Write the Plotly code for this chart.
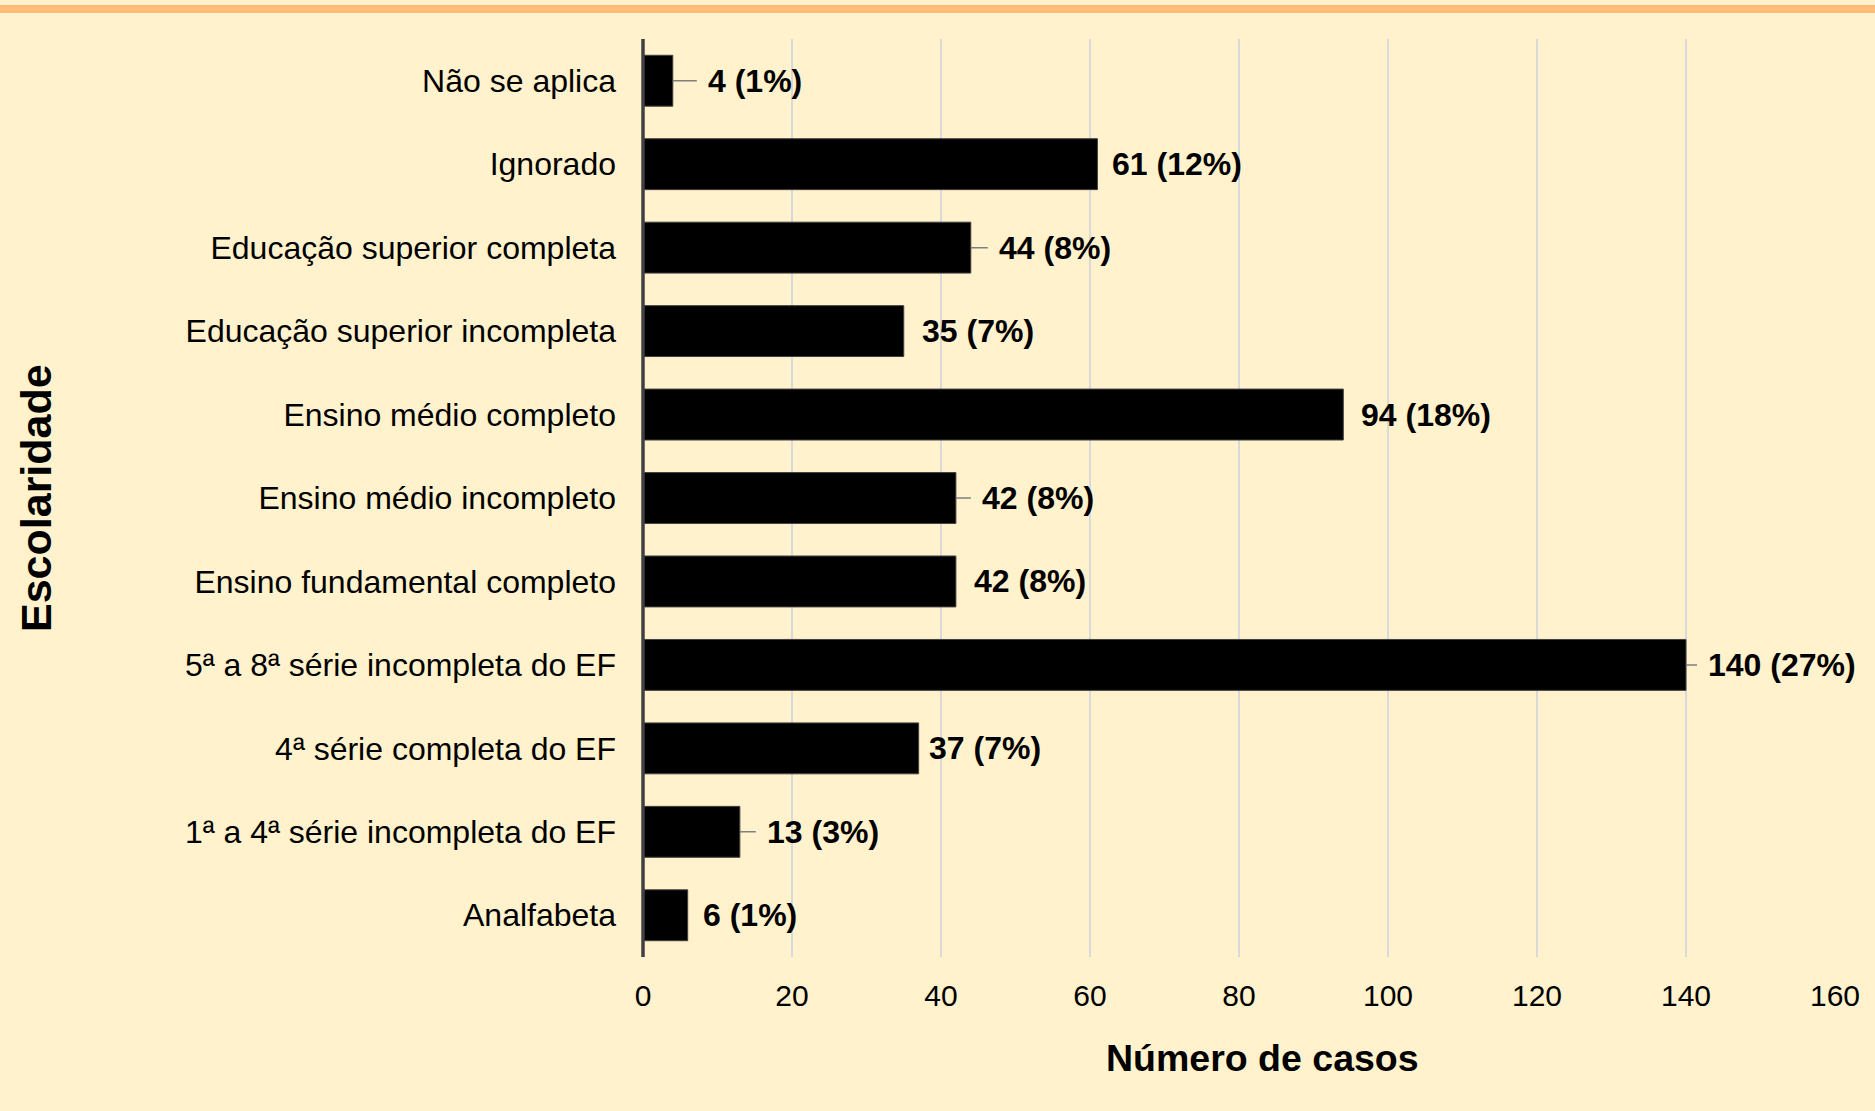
import plotly.graph_objects as go

# ---- data (bottom to top) ----
categories = [
    "Analfabeta",
    "1ª a 4ª série incompleta do EF",
    "4ª série completa do EF",
    "5ª a 8ª série incompleta do EF",
    "Ensino fundamental completo",
    "Ensino médio incompleto",
    "Ensino médio completo",
    "Educação superior incompleta",
    "Educação superior completa",
    "Ignorado",
    "Não se aplica",
]
cases = [6, 13, 37, 140, 42, 42, 94, 35, 44, 61, 4]
percents = [1, 3, 7, 27, 8, 8, 18, 7, 8, 12, 1]
x_ticks = [0, 20, 40, 60, 80, 100, 120, 140, 160]

# ---- label placement styling (pixels) ----
has_leader = [False, True, False, True, False, True, False, False, True, False, True]
label_gap = [13, 25, 8, 20, 16, 24, 16, 16, 26, 13, 33]

FONT = "Liberation Sans, Arial, sans-serif"
BG = "#FFF2CC"
W, H = 1875, 1111
ML, MR, MT, MB = 643, 40, 39, 154

fig = go.Figure()
fig.add_trace(go.Bar(
    y=categories, x=cases, orientation="h",
    marker=dict(color="#000000", line=dict(color="#404040", width=1)),
    hoverinfo="x+y",
))

annotations = []
for cat, v, p, lead, gap in zip(categories, cases, percents, has_leader, label_gap):
    txt = f"<b>{v} ({p}%)</b>"
    if lead:
        annotations.append(dict(
            x=v, y=cat, xref="x", yref="y", text=txt,
            showarrow=True, arrowhead=0, arrowwidth=1.5, arrowcolor="#7F7F7F",
            ax=gap, ay=0, xanchor="left", yanchor="middle", startstandoff=9,
            font=dict(family=FONT, size=32, color="#000000"),
        ))
    else:
        annotations.append(dict(
            x=v, y=cat, xref="x", yref="y", text=txt, showarrow=False,
            xanchor="left", yanchor="middle", xshift=gap,
            font=dict(family=FONT, size=32, color="#000000"),
        ))

plot_h = H - MT - MB
plot_w = W - ML - MR
annotations.append(dict(
    x=0.5, y=0, xref="paper", yref="paper", text="<b>Número de casos</b>",
    showarrow=False, xanchor="center", yanchor="middle",
    xshift=23, yshift=-101, font=dict(family=FONT, size=37.5, color="#000000"),
))
annotations.append(dict(
    x=0, y=0.5, xref="paper", yref="paper", text="<b>Escolaridade</b>",
    showarrow=False, xanchor="center", yanchor="middle", textangle=-90,
    xshift=-(ML - 36), font=dict(family=FONT, size=43, color="#000000"),
))

fig.update_layout(
    width=W, height=H,
    margin=dict(l=ML, r=MR, t=MT, b=MB, pad=0),
    paper_bgcolor=BG, plot_bgcolor=BG,
    showlegend=False,
    bargap=0.39,
    font=dict(family=FONT, size=30, color="#000000"),
    annotations=annotations,
    shapes=[
        dict(
            type="rect", xref="paper", yref="paper",
            x0=-ML / plot_w - 0.1, x1=1 + MR / plot_w + 0.1,
            y0=1 + (MT - 13) / plot_h, y1=1 + (MT - 5) / plot_h,
            fillcolor="#FFBB78", line=dict(width=0), layer="above",
        ),
        dict(
            type="line", xref="paper", yref="paper",
            x0=0, x1=0, y0=0, y1=1,
            line=dict(color="#404040", width=3.5), layer="above",
        ),
    ],
    xaxis=dict(
        range=[0, 160], tickvals=x_ticks, showgrid=True,
        gridcolor="#D9D9D9", gridwidth=1.5, zeroline=False, showline=False,
        ticks="", tickfont=dict(family=FONT, size=30, color="#000000"),
        ticklabelstandoff=18, fixedrange=True,
    ),
    yaxis=dict(
        categoryorder="array", categoryarray=categories,
        showgrid=False, zeroline=False, showline=False, ticks="",
        tickfont=dict(family=FONT, size=32, color="#000000"),
        ticklabelstandoff=26,
    ),
)

fig.write_html("out.html", config={"displayModeBar": False})

# remove the default page margin so the figure sits at the window's corner
with open("out.html", "r", encoding="utf-8") as f:
    html = f.read()
html = html.replace("<head>", "<head><style>html,body{margin:0;padding:0;}</style>", 1)
with open("out.html", "w", encoding="utf-8") as f:
    f.write(html)
